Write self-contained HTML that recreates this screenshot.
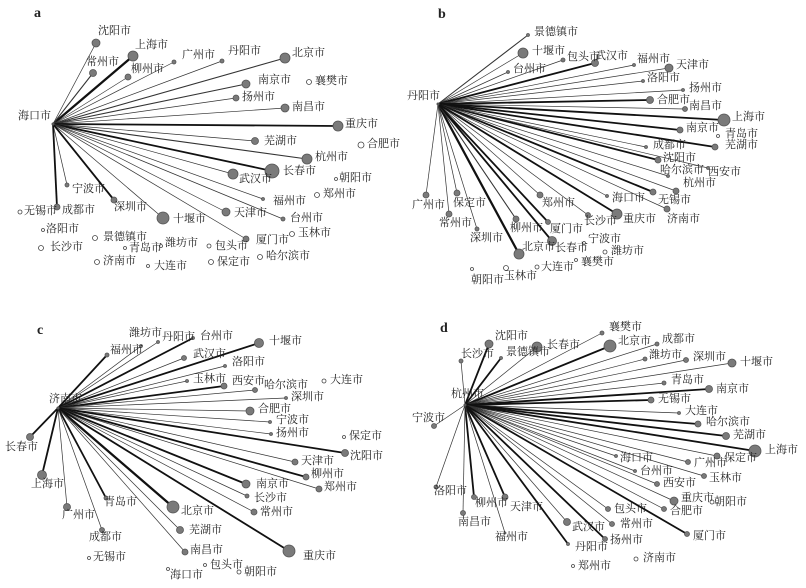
<!DOCTYPE html>
<html><head><meta charset="utf-8"><style>
html,body{margin:0;padding:0;background:#fff;}
svg{display:block;}
text{font-family:"Liberation Serif","Noto Serif CJK SC",serif;font-size:11px;fill:#222;}
.p{font-size:14px;font-weight:bold;}
</style></head><body>
<svg id="s" width="806" height="588" viewBox="0 0 806 588" xmlns="http://www.w3.org/2000/svg">
<text class="p" x="34" y="17">a</text>
<text class="p" x="438" y="18">b</text>
<text class="p" x="37" y="334">c</text>
<text class="p" x="440" y="332">d</text>
</svg>
<script>
// [label, nx, ny, r, lineWidth(0 = open, no line), lx, ly]
var P=[
{ox:0,oy:0,hx:53,hy:124,label:"海口市",hlx:18,hly:116,n:[
["沈阳市",96,43,4,1,98,31],["上海市",133,56,5,2.5,135,45],["常州市",93,73,3.5,1.5,86,62],["柳州市",128,77,3,0.8,131,69],
["广州市",174,62,2,1,182,55],["丹阳市",222,61,2,1,228,51],["北京市",285,58,5,1.5,292,53],["南京市",246,84,4,1.5,258,80],
["襄樊市",309,82,2.5,0,315,81],["扬州市",236,98,3,1,242,97],["南昌市",285,108,4,1,292,107],["重庆市",338,126,5,2,345,124],
["芜湖市",255,141,3.5,1,264,141],["合肥市",361,145,3,0,367,144],["杭州市",307,159,5,1.5,315,157],["长春市",272,171,7,2,283,171],
["武汉市",233,174,5,1,239,179],["朝阳市",336,179,1.5,0,339,178],["福州市",263,199,1.5,1,273,201],["郑州市",317,195,2.5,0,323,194],
["天津市",226,212,4,1,234,213],["台州市",283,219,2,1,290,218],["玉林市",292,234,2.5,0,298,233],["厦门市",246,239,3,1,256,240],
["包头市",209,246,2,0,215,246],["哈尔滨市",260,257,2.5,0,266,256],["保定市",211,262,2.5,0,217,262],["十堰市",163,218,6,1,173,219],
["深圳市",114,200,3,2,114,207],["宁波市",67,185,2,1,72,189],["成都市",57,207,3,2,62,210],["无锡市",20,212,2,0,24,211],
["洛阳市",43,230,1.5,0,46,229],["长沙市",41,248,2.5,0,50,247],["景德镇市",95,238,2.5,0,103,237],["青岛市",125,248,1.5,0,129,248],
["潍坊市",161,246,1.5,0,165,243],["济南市",97,262,2.5,0,103,261],["大连市",148,266,1.5,0,154,266]]},
{ox:400,oy:0,hx:38,hy:104,label:"丹阳市",hlx:7,hly:96,n:[
["景德镇市",128,35,1.5,1.5,134,32],["十堰市",123,53,5,1,132,51],["台州市",108,72,1.5,1,113,69],["包头市",163,60,2,1,167,57],
["武汉市",195,63,3.5,2,195,56],["福州市",234,65,1.5,1,237,59],["天津市",269,68,4,1,276,65],["洛阳市",243,81,1.5,1,247,78],
["扬州市",283,90,1.5,1,289,88],["合肥市",250,100,3.5,2,257,100],["南昌市",285,109,2.5,1,289,106],["上海市",324,120,6,2,332,117],
["南京市",280,130,3,2,286,128],["青岛市",318,136,1.5,0,325,134],["芜湖市",315,147,3,2,325,145],["成都市",246,147,1.5,1,253,145],
["沈阳市",258,160,3,2,263,158],["哈尔滨市",268,176,1.5,1,260,170],["西安市",308,168,1.5,1,308,172],["杭州市",276,191,3,1,283,183],
["海口市",207,196,1.5,1,212,198],["无锡市",253,192,3,2,258,200],["济南市",267,209,3,1,267,219],["郑州市",140,195,3,1,142,203],
["长沙市",188,215,2.5,1,184,221],["重庆市",217,214,5,2,223,219],["宁波市",184,243,1.5,0,188,239],["潍坊市",205,252,2,0,211,251],
["襄樊市",176,260,1.5,0,181,262],["大连市",137,267,2,0,141,267],["玉林市",106,268,2.5,0,104,276],["朝阳市",72,269,1.5,0,71,280],
["北京市",119,254,5,2.5,122,247],["长春市",152,241,4.5,2,155,248],["柳州市",116,219,3,1.5,110,228],["厦门市",148,222,2.5,2,150,229],
["深圳市",77,229,2,1,70,238],["常州市",49,214,3,1,39,223],["保定市",57,193,3,1,53,203],["广州市",26,195,3,1,12,205]]},
{ox:0,oy:290,hx:58,hy:118,label:"济南市",hlx:49,hly:109,n:[
["潍坊市",141,56,1.5,1,129,43],["丹阳市",158,52,1.5,1,162,47],["福州市",107,65,2,2,110,60],["台州市",193,48,1.5,2,200,46],
["十堰市",259,53,4.5,2,269,51],["武汉市",184,68,2.5,1,193,64],["洛阳市",225,76,1.5,1,232,72],["玉林市",187,91,1.5,1,193,89],
["西安市",224,96,3,2,232,91],["哈尔滨市",255,100,2.5,1,264,95],["大连市",324,91,2,0,330,90],["深圳市",286,108,1.5,1,291,107],
["合肥市",250,121,4,1,258,119],["宁波市",270,132,1.5,1,276,130],["扬州市",271,144,1.5,1,276,143],["保定市",344,147,1.5,0,349,146],
["沈阳市",345,163,3.5,2,350,166],["天津市",295,172,3,1,301,171],["柳州市",306,187,3,2,311,184],["郑州市",319,199,3,1,324,197],
["南京市",246,194,4,2,256,194],["长沙市",247,206,2,1,254,208],["常州市",254,222,3,1,260,222],["北京市",173,217,6,2.5,181,221],
["芜湖市",180,240,3.5,1,189,240],["南昌市",185,262,3,1,190,260],["重庆市",289,261,6,2,303,266],["青岛市",106,208,2,2,104,212],
["广州市",67,217,3.5,1,62,225],["成都市",102,240,2.5,1,89,247],["上海市",42,185,4.5,2,31,194],["长春市",30,147,3.5,2,5,157],
["无锡市",89,268,1.5,0,93,267],["海口市",168,279,1.5,0,170,285],["包头市",205,275,1.5,0,210,275],["朝阳市",239,282,2,0,244,282]]},
{ox:400,oy:290,hx:65,hy:115,label:"杭州市",hlx:51,hly:104,n:[
["沈阳市",89,54,4,2,95,46],["长沙市",61,71,2,1,61,64],["景德镇市",101,68,1.5,2,106,62],["长春市",137,57,5,1,147,55],
["襄樊市",202,43,2,1,209,37],["北京市",210,56,6,2,218,51],["成都市",257,54,2,1,262,49],["潍坊市",245,69,2,1,249,65],
["深圳市",286,70,2.5,1,293,67],["十堰市",332,73,4,1,340,72],["青岛市",264,93,2,1,271,90],["南京市",309,99,3.5,2,316,99],
["无锡市",251,110,3,2,258,109],["大连市",279,123,1.5,1,285,121],["哈尔滨市",298,134,3,2,306,132],["芜湖市",326,146,3.5,2,333,145],
["上海市",355,161,6,2,365,160],["保定市",317,166,3,1,324,168],["广州市",288,172,2.5,1,294,173],["海口市",216,166,1.5,1,220,168],
["台州市",235,181,1.5,1,240,181],["玉林市",304,186,2.5,1,309,188],["西安市",257,194,2.5,1,263,193],["重庆市",274,211,4,1,281,208],
["朝阳市",312,212,2,0,314,212],["合肥市",264,219,2.5,1,270,221],["包头市",208,219,2.5,1,214,219],["常州市",212,234,2.5,1,220,234],
["厦门市",287,244,2.5,2,293,246],["武汉市",167,232,3.5,1,172,237],["扬州市",205,249,2.5,2,210,250],["丹阳市",168,254,1.5,2,175,257],
["济南市",236,269,2,0,243,268],["郑州市",173,276,1.5,0,178,276],["天津市",105,207,3,2,110,217],["柳州市",74,207,2.5,2,75,213],
["福州市",105,243,1,1,95,247],["南昌市",63,223,2.5,1,58,232],["洛阳市",36,197,2,1,34,201],["宁波市",34,136,2.5,1,12,128]]}
];
var s=document.getElementById('s'),NS="http://www.w3.org/2000/svg";
function el(t,a,txt){var e=document.createElementNS(NS,t);for(var k in a)e.setAttribute(k,a[k]);if(txt)e.textContent=txt;s.appendChild(e);return e;}
P.forEach(function(p){
 var hx=p.ox+p.hx,hy=p.oy+p.hy;
 p.n.forEach(function(n){ if(n[4]>0) el('line',{x1:hx,y1:hy,x2:p.ox+n[1],y2:p.oy+n[2],stroke:n[4]>=2?'#111':'#333','stroke-width':n[4]>=2?n[4]*0.9:n[4]*0.7});});
 p.n.forEach(function(n){
  var open=n[4]===0;
  el('circle',{cx:p.ox+n[1],cy:p.oy+n[2],r:n[3],fill:open?'#fff':'#7a7a7a',stroke:open?'#444':'#555','stroke-width':0.8});
 });
 el('circle',{cx:hx,cy:hy,r:1.5,fill:'#555'});
 el('text',{x:p.ox+p.hlx,y:p.oy+p.hly,'dominant-baseline':'central'},p.label);
 p.n.forEach(function(n){ el('text',{x:p.ox+n[5],y:p.oy+n[6],'dominant-baseline':'central'},n[0]);});
});
</script>
</body></html>
